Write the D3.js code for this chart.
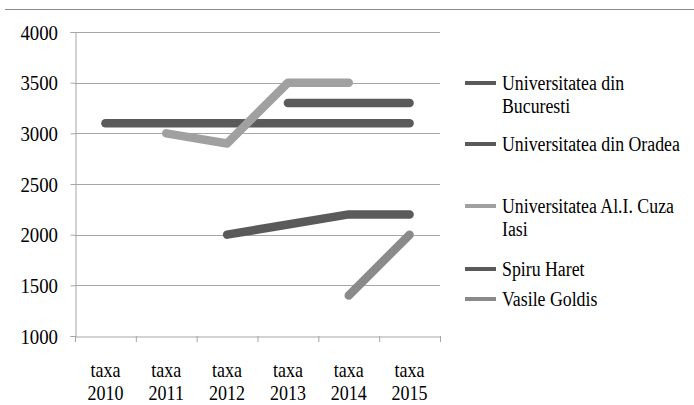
<!DOCTYPE html>
<html><head><meta charset="utf-8">
<script src="https://cdn.jsdelivr.net/npm/d3@7"></script>
<style>body{margin:0;background:#fff;} svg{display:block;}</style>
</head><body>
<svg id="c" width="694" height="405"></svg>
<script>
const categories = ["taxa 2010","taxa 2011","taxa 2012","taxa 2013","taxa 2014","taxa 2015"];
const yTicks = [1000,1500,2000,2500,3000,3500,4000];
const seriesNames = ["Universitatea din Bucuresti","Universitatea din Oradea","Universitatea Al.I. Cuza Iasi","Spiru Haret","Vasile Goldis"];
const bucuresti = [3100,3100,3100,3100,3100,3100];
const oradea = [null,null,null,3300,3300,3300];
const cuza = [null,3000,2900,3500,3500,null];
const spiru = [null,null,2000,2100,2200,2200];
const goldis = [null,null,null,null,1400,2000];
const seriesValues = [bucuresti, oradea, cuza, spiru, goldis];
const colors = ["#5a5a5a","#5a5a5a","#a0a0a0","#5a5a5a","#8a8a8a"];
const legendLines = [["Universitatea din","Bucuresti"],["Universitatea din Oradea"],["Universitatea Al.I. Cuza","Iasi"],["Spiru Haret"],["Vasile Goldis"]];

(function(){
const svg = d3.select("#c");
const font = "'Liberation Serif', serif";
const pL = 75, pR = 440, pT = 32, pB = 336;

svg.append("line").attr("x1",5).attr("x2",694).attr("y1",9.5).attr("y2",9.5)
  .attr("stroke","#8a8a8a").attr("stroke-width",1.2);

const x = d3.scaleBand().domain(categories).range([pL,pR]).padding(0);
const y = d3.scaleLinear().domain([1000,4000]).range([pB,pT]);

svg.append("g").selectAll("line").data(yTicks.filter(d=>d>1000)).join("line")
  .attr("x1",pL).attr("x2",pR)
  .attr("y1",d=>Math.round(y(d))+0.5).attr("y2",d=>Math.round(y(d))+0.5)
  .attr("stroke","#a6a6a6").attr("stroke-width",1);

const yAxis = svg.append("g").attr("transform",`translate(${pL+0.5},0)`)
  .call(d3.axisLeft(y).tickValues(yTicks).tickSize(5).tickFormat(""));
yAxis.select(".domain").attr("stroke","#a6a6a6");
yAxis.selectAll(".tick line").attr("stroke","#a6a6a6");
yAxis.selectAll(".tick text").remove();

svg.append("g").selectAll("text").data(yTicks).join("text")
  .attr("font-family",font).attr("font-size",20).attr("fill","#000").attr("text-anchor","end")
  .attr("transform",d=>`translate(58,${y(d)+7.5}) scale(0.94,1)`)
  .text(d=>d3.format("d")(d));

const xAxis = svg.append("g").attr("transform",`translate(0,${pB+0.5})`)
  .call(d3.axisBottom(x).tickSize(0).tickFormat(""));
xAxis.select(".domain").attr("stroke","#a6a6a6");
svg.append("g").selectAll("line").data(categories.concat(["end"])).join("line")
  .attr("x1",(d,i)=> (i<categories.length? x(d): pR)+0.5)
  .attr("x2",(d,i)=> (i<categories.length? x(d): pR)+0.5)
  .attr("y1",pB).attr("y2",pB+6).attr("stroke","#a6a6a6");

const lab = svg.append("g").selectAll("text").data(categories).join("text")
  .attr("font-family",font).attr("font-size",20).attr("fill","#000").attr("text-anchor","middle")
  .attr("transform",d=>`translate(${x(d)+x.bandwidth()/2},0) scale(0.9,1)`);
lab.append("tspan").attr("x",0).attr("y",377).text(d=>d.split(" ")[0]);
lab.append("tspan").attr("x",0).attr("y",400).text(d=>d.split(" ")[1]);

const line = d3.line().defined(d=>d.v!=null)
  .x(d=>x(d.c)+x.bandwidth()/2).y(d=>y(d.v));
seriesValues.forEach((vals,i)=>{
  svg.append("path").datum(vals.map((v,j)=>({c:categories[j],v})))
    .attr("d",line).attr("fill","none").attr("stroke",colors[i])
    .attr("stroke-width",8.5).attr("stroke-linecap","round").attr("stroke-linejoin","round");
});

const legY = [83,144,206,269,299];
const leg = svg.append("g");
seriesNames.forEach((n,i)=>{
  leg.append("line").attr("x1",465).attr("x2",496).attr("y1",legY[i]).attr("y2",legY[i])
    .attr("stroke",colors[i]).attr("stroke-width",4);
  const t = leg.append("text").attr("font-family",font).attr("font-size",20).attr("fill","#000")
    .attr("transform",`translate(502,0) scale(0.89,1)`);
  legendLines[i].forEach((s,k)=>{
    t.append("tspan").attr("x",0).attr("y",legY[i]+7+k*23).text(s);
  });
});
})();
</script>
</body></html>
